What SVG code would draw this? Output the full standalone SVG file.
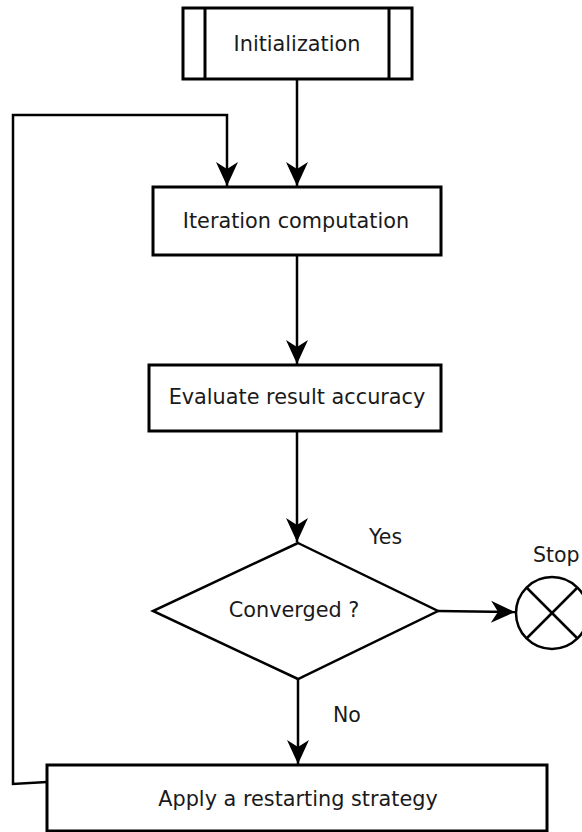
<svg xmlns="http://www.w3.org/2000/svg" width="582" height="832" viewBox="0 0 582 832">
  <style>
    .box { fill: #ffffff; stroke: #000000; stroke-width: 3; }
    .shape { fill: #ffffff; stroke: #000000; stroke-width: 2.5; }
    .edge { fill: none; stroke: #000000; stroke-width: 2.5; }
    .label { font-family: "DejaVu Sans", "Liberation Sans", sans-serif; font-size: 20.8px; fill: #1a1a1a; text-anchor: middle; }
    .note { font-family: "DejaVu Sans", "Liberation Sans", sans-serif; font-size: 20.5px; fill: #1a1a1a; }
  </style>
  <defs>
    <!-- concave filled arrowhead, tip at the end of the line -->
    <marker id="arrow" markerUnits="userSpaceOnUse" viewBox="-25 -12 26 24" refX="0" refY="0" markerWidth="26" markerHeight="24" orient="auto">
      <path d="M0,0 L-24,-11 L-17,0 L-24,11 Z" fill="#000000"/>
    </marker>
  </defs>

  <rect width="582" height="832" fill="#ffffff"/>

  <!-- connectors -->
  <g id="connectors">
    <line class="edge" x1="297" y1="79" x2="297" y2="186" marker-end="url(#arrow)"/>
    <path class="edge" d="M47,782 L13,784 L13,115 L227,115 L227,186" marker-end="url(#arrow)"/>
    <line class="edge" x1="297" y1="255" x2="297" y2="364" marker-end="url(#arrow)"/>
    <line class="edge" x1="297" y1="431" x2="297" y2="542" marker-end="url(#arrow)"/>
    <line class="edge" x1="298" y1="679" x2="298" y2="764" marker-end="url(#arrow)"/>
    <line class="edge" x1="438" y1="611" x2="515" y2="612" marker-end="url(#arrow)"/>
  </g>

  <!-- predefined process: initialization -->
  <g id="init">
    <rect class="box" x="183" y="8" width="229" height="71"/>
    <line class="box" x1="205" y1="8" x2="205" y2="79"/>
    <line class="box" x1="389" y1="8" x2="389" y2="79"/>
    <text class="label" x="297" y="51">Initialization</text>
  </g>

  <g id="iteration">
    <rect class="box" x="153" y="187" width="288" height="68"/>
    <text class="label" x="296" y="228">Iteration computation</text>
  </g>

  <g id="evaluate">
    <rect class="box" x="149" y="365" width="292" height="66"/>
    <text class="label" x="297" y="404">Evaluate result accuracy</text>
  </g>

  <g id="converged">
    <polygon class="shape" points="298,543 438,611 298,679 153,611"/>
    <text class="label" x="294" y="617">Converged ?</text>
  </g>

  <g id="yes-label">
    <text class="note" x="369" y="544">Yes</text>
  </g>

  <g id="no-label">
    <text class="note" x="333" y="722">No</text>
  </g>

  <g id="stop">
    <circle class="shape" cx="552" cy="613" r="36"/>
    <line class="edge" x1="527" y1="588" x2="577" y2="638"/>
    <line class="edge" x1="527" y1="638" x2="577" y2="588"/>
    <text class="note" x="533" y="562">Stop</text>
  </g>

  <g id="restart">
    <rect class="box" x="47" y="765" width="500" height="66"/>
    <text class="label" x="298" y="806">Apply a restarting strategy</text>
  </g>
</svg>
